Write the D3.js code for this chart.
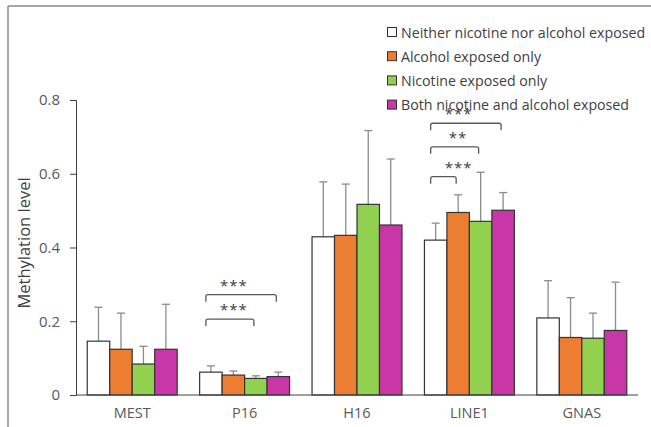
<!DOCTYPE html>
<html>
<head>
<meta charset="utf-8">
<script src="https://cdn.jsdelivr.net/npm/d3@7"></script>
<style>
  body { margin:0; background:#fff; }
  text { font-family: "Open Sans", sans-serif; }
</style>
</head>
<body>
<div id="chart"></div>
<script>
const genes = ["MEST", "P16", "H16", "LINE1", "GNAS"];
const groups = ["Neither nicotine nor alcohol exposed", "Alcohol exposed only", "Nicotine exposed only", "Both nicotine and alcohol exposed"];
const colors = ["#ffffff", "#ed7d31", "#92d050", "#c936a8"];
// mean per gene, one array per group
const neither = [0.146, 0.062, 0.429, 0.420, 0.209];
const alcohol = [0.124, 0.054, 0.433, 0.495, 0.156];
const nicotine = [0.084, 0.045, 0.517, 0.471, 0.154];
const both = [0.124, 0.050, 0.461, 0.501, 0.175];
// upper end of error bar
const neitherErr = [0.238, 0.079, 0.578, 0.466, 0.310];
const alcoholErr = [0.222, 0.065, 0.572, 0.543, 0.264];
const nicotineErr = [0.132, 0.052, 0.717, 0.604, 0.222];
const bothErr = [0.246, 0.062, 0.640, 0.549, 0.306];
const yTicks = [0, 0.2, 0.4, 0.6, 0.8];
// significance brackets: gene, from group, to group, bracket level, label
const sigs = [
  {gene:"P16", from:0, to:3, level:0.272, label:"***"},
  {gene:"P16", from:0, to:2, level:0.206, label:"***"},
  {gene:"LINE1", from:0, to:3, level:0.737, label:"***"},
  {gene:"LINE1", from:0, to:2, level:0.673, label:"**"},
  {gene:"LINE1", from:0, to:1, level:0.592, label:"***"}
];

const means = [neither, alcohol, nicotine, both];
const errs = [neitherErr, alcoholErr, nicotineErr, bothErr];

const W = 651, H = 427;
const svg = d3.select("#chart").append("svg")
  .attr("width", W).attr("height", H);

// frame lines
svg.append("line").attr("x1",8).attr("x2",W).attr("y1",6).attr("y2",6)
  .attr("stroke","#8a8a8a").attr("stroke-width",1.5);
svg.append("line").attr("x1",8).attr("x2",8).attr("y1",6).attr("y2",H)
  .attr("stroke","#8a8a8a").attr("stroke-width",1.5);

const x = d3.scaleBand().domain(genes).range([76, 638]).paddingInner(0.2).paddingOuter(0.1);
const xs = d3.scaleBand().domain(d3.range(4)).range([0, x.bandwidth()]);
const y = d3.scaleLinear().domain([0, 0.8]).range([395, 100]);

// y axis
const yAxis = svg.append("g").attr("transform","translate(76,0)")
  .call(d3.axisLeft(y).tickValues(yTicks).tickFormat(d => d === 0 ? "0" : d3.format(".1f")(d)).tickSizeOuter(0).tickSize(6).tickPadding(10));
yAxis.select(".domain").attr("stroke","#404040");
yAxis.selectAll(".tick line").attr("stroke","#404040");
yAxis.selectAll("text").attr("fill","#595959").style("font-size","15px");

svg.append("text").text("Methylation level")
  .attr("transform","translate(26,243)rotate(-90)")
  .attr("text-anchor","middle").attr("dominant-baseline","middle")
  .attr("fill","#404040").style("font-size","16.5px");

// bars
const gg = svg.append("g");
genes.forEach((g, gi) => {
  means.forEach((arr, k) => {
    const bx = x(g) + xs(k);
    const cx = bx + xs.bandwidth()/2;
    gg.append("line").attr("x1",cx).attr("x2",cx).attr("y1",y(arr[gi])).attr("y2",y(errs[k][gi]))
      .attr("stroke","#8c8c8c").attr("stroke-width",1.3);
    gg.append("line").attr("x1",cx-4).attr("x2",cx+4).attr("y1",y(errs[k][gi])).attr("y2",y(errs[k][gi]))
      .attr("stroke","#8c8c8c").attr("stroke-width",1.3);
    gg.append("rect").attr("x",bx).attr("y",y(arr[gi]))
      .attr("width",xs.bandwidth()).attr("height",y(0)-y(arr[gi]))
      .attr("fill",colors[k]).attr("stroke","#333").attr("stroke-width",1.2);
  });
});

// x axis line
svg.append("line").attr("x1",76).attr("x2",638).attr("y1",y(0)).attr("y2",y(0))
  .attr("stroke","#404040").attr("stroke-width",1.2);
svg.append("g").selectAll("text").data(genes).enter().append("text")
  .attr("x", d => x(d) + x.bandwidth()/2).attr("y", 418)
  .attr("text-anchor","middle").attr("fill","#595959").style("font-size","14.5px")
  .text(d => d);

// significance brackets
sigs.forEach(s => {
  const x1 = x(s.gene) + xs(s.from) + xs.bandwidth()/2 - 5;
  const x2 = x(s.gene) + xs(s.to) + xs.bandwidth()/2 - 2;
  const yy = y(s.level);
  svg.append("path")
    .attr("d", `M${x1},${yy+7} L${x1},${yy+2} Q${x1},${yy} ${x1+2},${yy} L${x2-2},${yy} Q${x2},${yy} ${x2},${yy+2} L${x2},${yy+7}`)
    .attr("fill","none").attr("stroke","#595959").attr("stroke-width",1.3);
  svg.append("text").text(s.label)
    .attr("x", x1 + 14 + (s.label.length === 2 ? 4 : 0)).attr("y", yy - 4)
    .attr("fill","#404040").style("font-size","15px").style("letter-spacing","1px");
});

// legend
const lg = svg.append("g").attr("transform","translate(387,0)");
groups.forEach((t, k) => {
  const cy = 32 + k*24.2;
  lg.append("rect").attr("x",0.5).attr("y",cy-4.5).attr("width",9).attr("height",9)
    .attr("fill",colors[k]).attr("stroke","#333").attr("stroke-width",1);
  lg.append("text").attr("x",14).attr("y",cy).attr("dominant-baseline","central")
    .attr("fill","#404040").style("font-size","14.2px").text(t);
});
</script>
</body>
</html>
